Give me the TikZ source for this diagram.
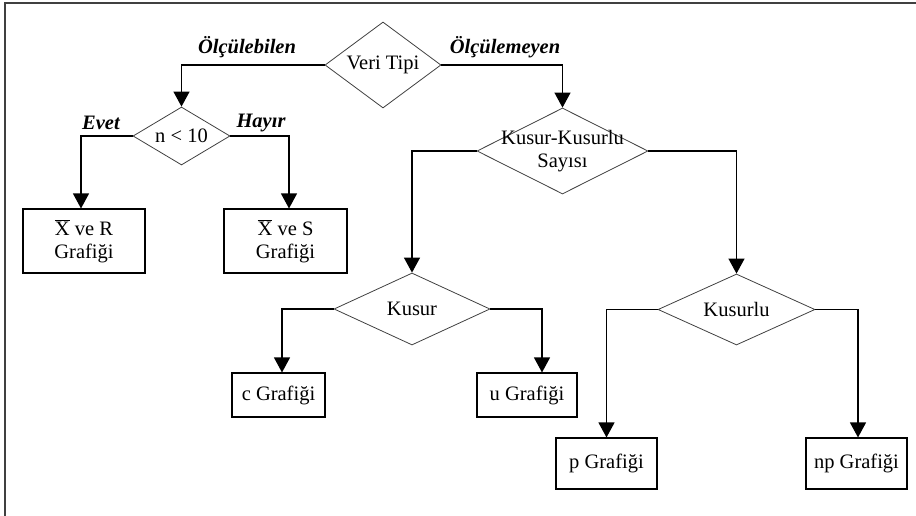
\documentclass[tikz,border=0pt]{standalone}
\usepackage{fontspec}
\setmainfont{Liberation Serif}
\usetikzlibrary{shapes.geometric,arrows.meta}
\newcommand{\xbarchar}{\ensuremath{\overline{\hbox{X}}}}
\begin{document}
\begin{tikzpicture}[x=1pt,y=-1pt,
  every node/.style={font=\fontsize{20.5}{23}\selectfont},
  dec/.style={diamond,draw=black!75,line width=0.8pt,inner sep=0pt,aspect=1.5},
  chart/.style={rectangle,draw=black,line width=1.1pt,inner sep=0pt,align=center},
  conn/.style={draw=black,line width=1.2pt,-{Triangle[width=16pt,length=15pt]}},
  lbl/.style={font=\fontsize{20.5}{23}\selectfont\bfseries\itshape}]
\useasboundingbox (0,0) rectangle (916,516);
\draw[black!75,line width=2pt] (4.5,516) -- (4.5,3) -- (916,3);
% diamonds
\node[dec,minimum width=116pt,minimum height=86pt,label=center:{Veri Tipi}] (veri) at (383,65) {};
\node[dec,minimum width=97pt,minimum height=58pt,label=center:{n < 10}] (n10) at (181.5,136) {};
\node[dec,minimum width=171pt,minimum height=86pt,label={[align=center,font=\fontsize{20.5}{23}\selectfont]center:Kusur-Kusurlu\\Sayısı}] (kk) at (562.5,151) {};
\node[dec,minimum width=156pt,minimum height=72pt,label=center:{Kusur}] (kusur) at (412,309) {};
\node[dec,minimum width=157pt,minimum height=71pt,label=center:{Kusurlu}] (kusurlu) at (736.5,309.5) {};
% boxes
\node[chart,minimum width=122pt,minimum height=64pt] (xr) at (84,241) {\xbarchar{} ve R\\Grafiği};
\node[chart,minimum width=123pt,minimum height=64pt] (xs) at (285.5,241) {\xbarchar{} ve S\\Grafiği};
\node[chart,minimum width=93pt,minimum height=44pt] (c) at (278.5,395) {c Grafiği};
\node[chart,minimum width=100pt,minimum height=44pt] (u) at (527,395) {u Grafiği};
\node[chart,minimum width=101pt,minimum height=51pt] (p) at (606.5,463.5) {p Grafiği};
\node[chart,minimum width=101pt,minimum height=51pt] (np) at (856.5,463.5) {np Grafiği};
% connectors
\draw[conn] (veri.west) -| (n10.north);
\draw[conn] (veri.east) -| (kk.north);
\draw[conn] (n10.west) -| ([xshift=-3pt]xr.north);
\draw[conn] (n10.east) -| ([xshift=3.5pt]xs.north);
\draw[conn] (kk.west) -| (kusur.north);
\draw[conn] (kk.east) -| (kusurlu.north);
\draw[conn] (kusur.west) -| ([xshift=3.5pt]c.north);
\draw[conn] (kusur.east) -| ([xshift=15pt]u.north);
\draw[conn] (kusurlu.west) -| (p.north);
\draw[conn] (kusurlu.east) -| ([xshift=1.5pt]np.north);
% labels
\node[lbl] (l1) at (247,47) {Ölçülebilen};
\node[lbl] (l2) at (505,47) {Ölçülemeyen};
\node[lbl] (l3) at (101,123) {Evet};
\node[lbl] (l4) at (261,123) {Hayır};
\end{tikzpicture}
\end{document}
